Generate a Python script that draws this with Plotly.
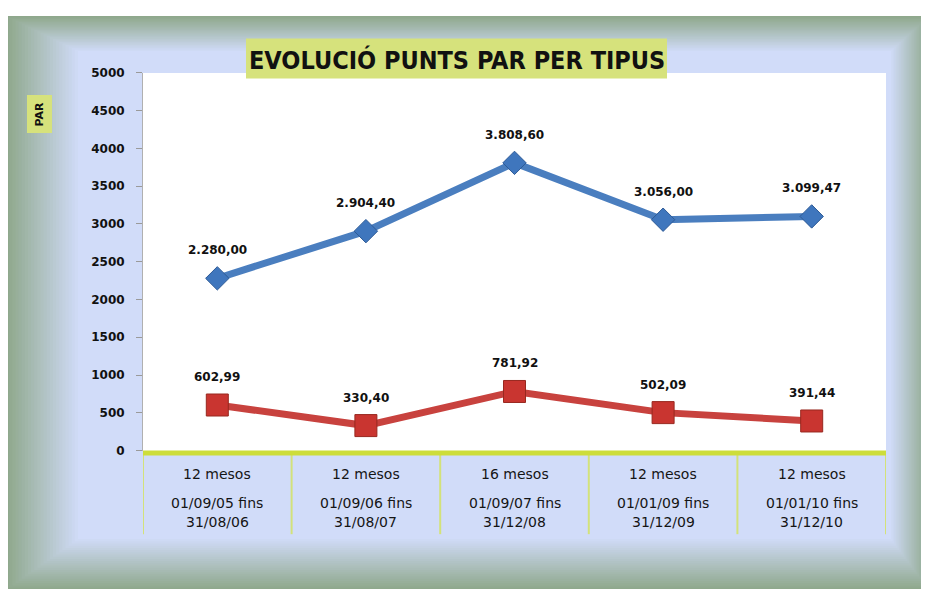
import plotly.graph_objects as go

# ---- data ----
periods = ["12 mesos", "12 mesos", "16 mesos", "12 mesos", "12 mesos"]
ranges_from = ["01/09/05 fins", "01/09/06 fins", "01/09/07 fins", "01/01/09 fins", "01/01/10 fins"]
ranges_to = ["31/08/06", "31/08/07", "31/12/08", "31/12/09", "31/12/10"]
blue_values = [2280.00, 2904.40, 3808.60, 3056.00, 3099.47]
red_values = [602.99, 330.40, 781.92, 502.09, 391.44]
y_ticks = list(range(0, 5001, 500))
title_text = "EVOLUCIÓ PUNTS PAR PER TIPUS"
y_title = "PAR"

# page has an 8px body margin; figure sized so the page fills the window
OFF = 8
W, H = 929 - 2 * OFF, 597 - 2 * OFF
def px(x):
    return (x - OFF) / W
def py(y):
    return 1 - (y - OFF) / H

def eu(v):
    s = f"{v:,.2f}"
    return s.replace(",", "X").replace(".", ",").replace("X", ".")

x_idx = list(range(len(periods)))

fig = go.Figure()
fig.add_trace(go.Scatter(
    x=x_idx, y=blue_values, mode="lines+markers",
    line=dict(color="#4a7ebf", width=7),
    marker=dict(symbol="diamond", size=18, color="#3f76bd",
                line=dict(color="#2d5a96", width=1)),
    showlegend=False, hoverinfo="skip"))
fig.add_trace(go.Scatter(
    x=x_idx, y=red_values, mode="lines+markers",
    line=dict(color="#c8423e", width=7),
    marker=dict(symbol="square", size=22, color="#c93530",
                line=dict(color="#98281f", width=1)),
    showlegend=False, hoverinfo="skip"))

shapes = []
# bevel frame background
sage = (143, 168, 140)
lav = (209, 220, 249)
N = 24
for i in range(N):
    t = i / (N - 1)
    c = tuple(int(round(sage[k] + (lav[k] - sage[k]) * t)) for k in range(3))
    x0 = 6 + t * 72
    x1 = 929 - t * 38
    y0 = 9 + t * 36
    y1 = 597 - t * 52
    shapes.append(dict(type="rect", xref="paper", yref="paper", layer="below",
                       x0=px(x0), x1=px(x1), y0=py(y1), y1=py(y0),
                       fillcolor=f"rgb{c}", line=dict(width=0)))
# white plot area
shapes.append(dict(type="rect", xref="paper", yref="paper", layer="below",
                   x0=px(143), x1=px(886), y0=py(455), y1=py(67.5),
                   fillcolor="white", line=dict(width=0)))
# table separators
for k in range(len(periods) + 1):
    shapes.append(dict(type="line", xref="x", yref="paper", layer="above",
                       x0=k - 0.5, x1=k - 0.5, y0=py(540), y1=py(458),
                       line=dict(color="#d3e27a", width=2)))
# zero line
shapes.append(dict(type="line", xref="paper", yref="paper", layer="above",
                   x0=px(143), x1=px(886), y0=py(456.7), y1=py(456.7),
                   line=dict(color="#cddd3a", width=5)))
# title box
shapes.append(dict(type="rect", xref="paper", yref="paper", layer="above",
                   x0=px(246), x1=px(667), y0=py(73), y1=py(32),
                   fillcolor="#d6e27c", line=dict(width=0)))
# PAR box
shapes.append(dict(type="rect", xref="paper", yref="paper", layer="above",
                   x0=px(27), x1=px(52), y0=py(129), y1=py(90),
                   fillcolor="#d6e27c", line=dict(width=0)))

annotations = []
annotations.append(dict(text=f"<b>{title_text}</b>", xref="paper", yref="paper",
                        x=px(457), y=py(54), xanchor="center", yanchor="middle", showarrow=False,
                        font=dict(family="DejaVu Sans Condensed, sans-serif",
                                  size=25, color="#111")))
annotations.append(dict(text=f"<b>{y_title}</b>", xref="paper", yref="paper",
                        x=px(39.5), y=py(109.5), xanchor="center", yanchor="middle",
                        showarrow=False, textangle=-90,
                        font=dict(family="DejaVu Sans", size=11, color="#111")))
label_font = dict(family="DejaVu Sans", size=12, color="#111", weight="bold")
for i in x_idx:
    annotations.append(dict(text=eu(blue_values[i]), x=i, y=blue_values[i], xref="x", yref="y",
                            showarrow=False, xanchor="center", yanchor="bottom", yshift=19,
                            font=label_font))
    annotations.append(dict(text=eu(red_values[i]), x=i, y=red_values[i], xref="x", yref="y",
                            showarrow=False, xanchor="center", yanchor="bottom", yshift=19,
                            font=label_font))
cat_font = dict(family="DejaVu Sans, sans-serif", size=14, color="#151515")
for i in x_idx:
    for txt, yy in ((periods[i], 478), (ranges_from[i], 508.5), (ranges_to[i], 527.5)):
        annotations.append(dict(text=txt, x=i, y=py(yy), xref="x", yref="paper",
                                xanchor="center", yanchor="middle", showarrow=False,
                                font=cat_font))

fig.update_layout(
    width=W, height=H,
    margin=dict(l=0, r=0, t=0, b=0),
    paper_bgcolor="white", plot_bgcolor="rgba(0,0,0,0)",
    shapes=shapes, annotations=annotations,
    xaxis=dict(domain=[px(143), px(886)], range=[-0.5, len(periods) - 0.5],
               showticklabels=False, showgrid=False, zeroline=False, showline=False,
               fixedrange=True),
    yaxis=dict(domain=[py(454.3), py(67.3)], range=[0, 5000], tickvals=y_ticks,
               ticktext=[str(v) for v in y_ticks],
               showgrid=False, zeroline=False, showline=True, linecolor="#b0b0b0", linewidth=1,
               ticks="outside", ticklen=6, tickcolor="#9a9a9a",
               tickfont=dict(family="DejaVu Sans", size=12, color="#111", weight="bold"),
               ticklabelstandoff=9, fixedrange=True),
)

fig.write_html("out.html")
